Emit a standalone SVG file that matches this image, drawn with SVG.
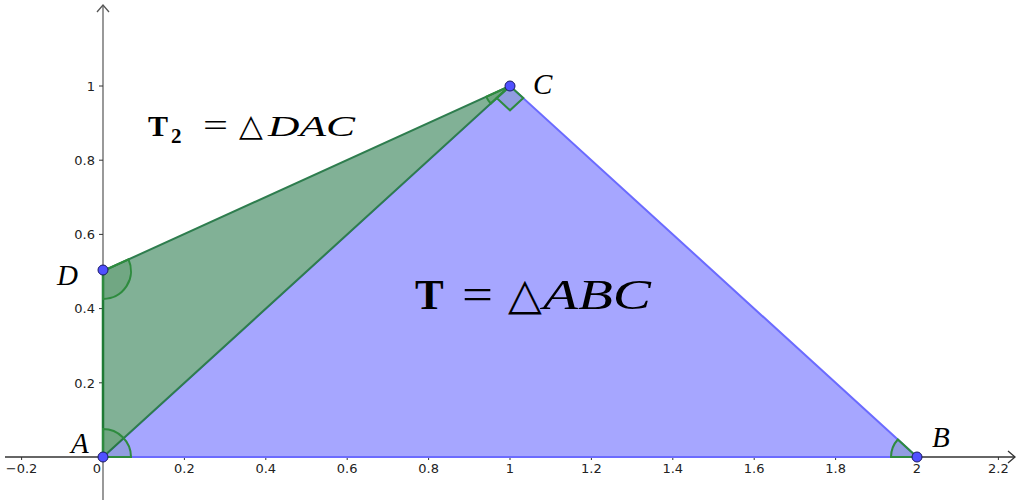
<svg xmlns="http://www.w3.org/2000/svg" width="1028" height="500" viewBox="0 0 1028 500">
<style>
.tick{font-family:"DejaVu Sans","Liberation Sans",sans-serif;font-size:13px;fill:#222}
.lbl{font-family:"Liberation Serif","DejaVu Serif",serif;font-style:italic;fill:#000}
.math{font-family:"Liberation Serif","DejaVu Serif",serif;fill:#000}
.sym{font-family:"DejaVu Serif","Liberation Serif",serif;font-style:normal;font-weight:normal;fill:#000}
.eq{font-family:"Liberation Serif","DejaVu Serif",serif;fill:#000}
.ang{fill:#006400;fill-opacity:0.12;stroke:#2e8b3e;stroke-width:2}
.pt{fill:#5050ff;stroke:#1a1a66;stroke-width:1}
</style>
<rect width="1028" height="500" fill="#fff"/>
<g id="axes">
  <line x1="5" y1="457" x2="1015" y2="457" stroke="#333" stroke-width="1.3"/>
  <polyline points="1008,451 1015,457 1008,463" fill="none" stroke="#333" stroke-width="1.3"/>
  <line x1="103" y1="500" x2="103" y2="5" stroke="#808080" stroke-width="1.6"/>
  <polyline points="97,12 103,5 109,12" fill="none" stroke="#555" stroke-width="1.3"/>
  <g stroke="#333" stroke-width="1">
    <line x1="21.6" y1="457" x2="21.6" y2="460"/>
    <line x1="184.4" y1="457" x2="184.4" y2="460"/>
    <line x1="265.8" y1="457" x2="265.8" y2="460"/>
    <line x1="347.2" y1="457" x2="347.2" y2="460"/>
    <line x1="428.6" y1="457" x2="428.6" y2="460"/>
    <line x1="510" y1="457" x2="510" y2="460"/>
    <line x1="591.4" y1="457" x2="591.4" y2="460"/>
    <line x1="672.8" y1="457" x2="672.8" y2="460"/>
    <line x1="754.2" y1="457" x2="754.2" y2="460"/>
    <line x1="835.6" y1="457" x2="835.6" y2="460"/>
    <line x1="917" y1="457" x2="917" y2="460"/>
    <line x1="998.4" y1="457" x2="998.4" y2="460"/>
    <line x1="99" y1="382.8" x2="103" y2="382.8"/>
    <line x1="99" y1="308.6" x2="103" y2="308.6"/>
    <line x1="99" y1="234.4" x2="103" y2="234.4"/>
    <line x1="99" y1="160.2" x2="103" y2="160.2"/>
    <line x1="99" y1="86" x2="103" y2="86"/>
  </g>
  <g class="tick" text-anchor="middle">
    <text x="21.6" y="473">−0.2</text>
    <text x="97" y="473">0</text>
    <text x="184.4" y="473">0.2</text>
    <text x="265.8" y="473">0.4</text>
    <text x="347.2" y="473">0.6</text>
    <text x="428.6" y="473">0.8</text>
    <text x="510" y="473">1</text>
    <text x="591.4" y="473">1.2</text>
    <text x="672.8" y="473">1.4</text>
    <text x="754.2" y="473">1.6</text>
    <text x="835.6" y="473">1.8</text>
    <text x="917" y="473">2</text>
    <text x="998.4" y="473">2.2</text>
  </g>
  <g class="tick" text-anchor="end">
    <text x="95" y="387.5">0.2</text>
    <text x="95" y="313.3">0.4</text>
    <text x="95" y="239.1">0.6</text>
    <text x="95" y="164.9">0.8</text>
    <text x="95" y="90.7">1</text>
  </g>
</g>
<g id="triangle-T">
  <polygon points="103,457 917,457 510,86" fill="#a6a6ff" stroke="#6b6bff" stroke-width="2"/>
</g>
<g id="triangle-T2">
  <polygon points="103,271 103,457 510,86" fill="#81b196" stroke="#2e7d4e" stroke-width="2"/>
  <line x1="103" y1="271" x2="103" y2="457" stroke="#1f7a35" stroke-width="2.5"/>
</g>
<g id="angles">
  <path class="ang" d="M103 457 L103 429 A28 28 0 0 1 131 457 Z"/>
  <path class="ang" d="M917 457 L891 457 A26 26 0 0 1 897.8 439.5 Z"/>
  <path class="ang" d="M103 271 L103 299 A28 28 0 0 0 128.5 259.4 Z"/>
  <path class="ang" d="M510 86 L486.3 96.8 A26 26 0 0 0 490.8 103.5 Z"/>
  <path class="ang" d="M510 86 L496.7 98.1 L510 110.3 L523.3 98.1 Z"/>
</g>
<g id="points">
  <circle id="A" class="pt" cx="103" cy="457" r="5"/>
  <circle id="B" class="pt" cx="917" cy="457" r="5"/>
  <circle id="C" class="pt" cx="510" cy="86" r="5"/>
  <circle id="D" class="pt" cx="103" cy="270" r="5"/>
</g>
<g id="labels">
  <text class="lbl" x="71" y="453" font-size="29">A</text>
  <text class="lbl" x="932" y="447" font-size="29">B</text>
  <text class="lbl" x="533" y="94" font-size="29">C</text>
  <text class="lbl" x="57" y="285" font-size="29">D</text>
  <g id="label-T2">
    <text class="math" x="148" y="136" font-size="30" font-weight="bold">T<tspan x="171" y="143" font-size="21">2</tspan></text>
    <text class="eq" x="203" y="136" font-size="31" textLength="25" lengthAdjust="spacingAndGlyphs">=</text>
    <text class="sym" x="239" y="136" font-size="31">△</text>
    <text class="lbl" x="268" y="136" font-size="29" textLength="87" lengthAdjust="spacingAndGlyphs">DAC</text>
  </g>
  <g id="label-T">
    <text class="math" x="415" y="309" font-size="43" font-weight="bold">T</text>
    <text class="eq" x="462" y="309" font-size="44" textLength="31" lengthAdjust="spacingAndGlyphs">=</text>
    <text class="sym" x="508" y="309" font-size="44">△</text>
    <text class="lbl" x="543" y="309" font-size="42" textLength="108" lengthAdjust="spacingAndGlyphs">ABC</text>
  </g>
</g>
</svg>
